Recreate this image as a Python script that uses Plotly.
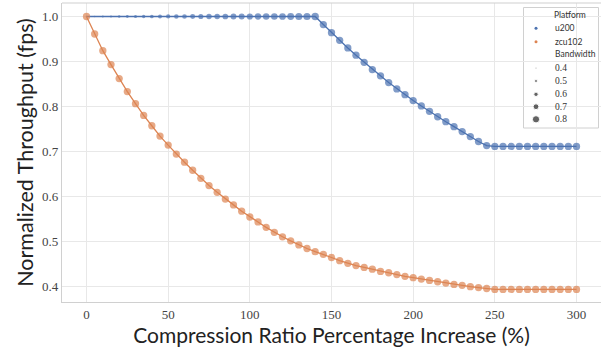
import plotly.graph_objects as go

# ---- data ----
ratio = list(range(0, 301, 5))  # Compression ratio percentage increase (%)

u200_throughput = (
    [1.0] * 29 +  # 0..140
    [0.982, 0.964, 0.947, 0.930, 0.914, 0.898, 0.882, 0.868, 0.853, 0.839,
     0.826, 0.813, 0.801, 0.789, 0.777, 0.766, 0.755, 0.744, 0.733, 0.722, 0.713] +  # 145..245
    [0.711] * 11  # 250..300
)
u200_bandwidth = (
    [0.40, 0.41, 0.43, 0.45, 0.47, 0.49, 0.51, 0.53, 0.55, 0.57,
     0.59, 0.61, 0.62, 0.64, 0.65, 0.67, 0.68, 0.69, 0.70, 0.71,
     0.72, 0.73, 0.74, 0.75, 0.76, 0.77, 0.78, 0.79, 0.81] +
    [0.80] * 32
)

zcu102_throughput = [
    1.0, 0.961, 0.924, 0.893, 0.862, 0.833, 0.806, 0.780, 0.757, 0.734,
    0.714, 0.694, 0.676, 0.658, 0.640, 0.624, 0.609, 0.594, 0.581, 0.567,
    0.554, 0.543, 0.531, 0.520, 0.510, 0.501, 0.492, 0.484, 0.477, 0.471,
    0.464, 0.457, 0.451, 0.446, 0.442, 0.438, 0.433, 0.430, 0.426, 0.422,
    0.419, 0.416, 0.413, 0.410, 0.407, 0.404, 0.402, 0.399, 0.397, 0.395,
    0.393, 0.393, 0.393, 0.393, 0.393, 0.393, 0.393, 0.393, 0.393, 0.393, 0.393,
]
zcu102_bandwidth = [0.80] * 61

platforms = ["u200", "zcu102"]
legend_bandwidths = [0.4, 0.5, 0.6, 0.7, 0.8]
x_ticks = [0, 50, 100, 150, 200, 250, 300]
y_ticks = [0.4, 0.5, 0.6, 0.7, 0.8, 0.9, 1.0]

BLUE = "#4c72b0"
ORANGE = "#dd8452"
SERIF = "'Liberation Serif', 'Times New Roman', Times, serif"
SANS = "Lato"

# plot area in pixels
L, R, T, B = 62, 601, 3, 302


def bw_to_px(b):
    return max(1.2, 1.5 + (b - 0.4) * 14.5)


def px_x(px):
    return (px - L) / (R - L)


def px_y(py):
    return (B - py) / (B - T)


fig = go.Figure()

for name, ys, bws, col in [("u200", u200_throughput, u200_bandwidth, BLUE),
                           ("zcu102", zcu102_throughput, zcu102_bandwidth, ORANGE)]:
    fig.add_trace(go.Scatter(
        x=ratio, y=ys, mode="lines+markers", name=name,
        line=dict(color=col, width=1.3),
        marker=dict(color=col, size=[bw_to_px(b) for b in bws], line=dict(width=0)),
        showlegend=False, hoverinfo="skip",
    ))

# ---- manual legend (on an overlay axis spanning the plot area, in pixel units) ----
leg_x_marker = 536
leg_x_text = 553
rows_platform = [28.3, 41.7]
rows_bw = [68.3, 81, 94.3, 106.7, 119.3]

fig.add_shape(type="rect", xref="paper", yref="paper",
              x0=px_x(523.5), x1=px_x(598.5), y0=px_y(128), y1=px_y(7.5),
              line=dict(color="#d0d0d0", width=1), fillcolor="white", layer="between")

fig.add_trace(go.Scatter(
    x=[leg_x_marker] * 2, y=rows_platform, mode="markers",
    marker=dict(color=[BLUE, ORANGE], size=3),
    xaxis="x2", yaxis="y2", showlegend=False, hoverinfo="skip",
))
fig.add_trace(go.Scatter(
    x=[leg_x_marker] * len(legend_bandwidths), y=rows_bw, mode="markers",
    marker=dict(color="#222", size=[bw_to_px(b) for b in legend_bandwidths]),
    xaxis="x2", yaxis="y2", showlegend=False, hoverinfo="skip",
))

def leg_text(txt, py, fam, size, xpx=leg_x_text, anchor="left"):
    fig.add_annotation(text=txt, xref="paper", yref="paper", x=px_x(xpx), y=px_y(py),
                       xanchor=anchor, yanchor="middle", showarrow=False,
                       font=dict(family=fam, size=size, color="#333"))

leg_text("Platform", 15, SANS, 8.5, xpx=570, anchor="center")
for p, py in zip(platforms, rows_platform):
    leg_text(p, py, SANS, 8.5)
leg_text("Bandwidth", 54.3, SANS, 8.5, xpx=575, anchor="center")
for b, py in zip(legend_bandwidths, rows_bw):
    leg_text(f"{b:.1f}", py, SERIF, 9.5)

fig.add_shape(type="line", xref="paper", yref="paper", x0=0, x1=1, y0=1, y1=1,
              line=dict(color="#d0d0d0", width=1.2))

fig.update_layout(
    width=601, height=356,
    margin=dict(l=L, r=601 - R, t=T, b=356 - B),
    paper_bgcolor="white", plot_bgcolor="white",
    showlegend=False,
    xaxis=dict(
        range=[-15, 315], tickvals=x_ticks, ticktext=[str(v) for v in x_ticks],
        showgrid=True, gridcolor="#e8e8e8", gridwidth=1, zeroline=False,
        showline=True, linecolor="#d0d0d0", linewidth=1.2, automargin=False,
        tickfont=dict(family=SERIF, size=13, color="#444"),
        ticks="", ticklen=0,
        title=dict(text="Compression Ratio Percentage Increase (%)",
                   font=dict(family=SANS, size=21, color="#222"), standoff=4),
    ),
    yaxis=dict(
        range=[0.365, 1.03], tickvals=y_ticks, ticktext=[f"{v:.1f}" for v in y_ticks],
        showgrid=True, gridcolor="#e8e8e8", gridwidth=1, zeroline=False,
        showline=True, linecolor="#d0d0d0", linewidth=1.2, automargin=False,
        tickfont=dict(family=SERIF, size=13, color="#444"),
        ticks="", ticklen=0,
        title=dict(text="Normalized Throughput (fps)",
                   font=dict(family=SANS, size=21.5, color="#222"), standoff=2),
    ),
    xaxis2=dict(overlaying="x", range=[L, R], visible=False, fixedrange=True),
    yaxis2=dict(overlaying="y", range=[B, T], visible=False, fixedrange=True),
)

fig.write_html("out.html", config={"displayModeBar": False},
               post_script="document.body.style.margin='0';document.body.style.padding='0';")
